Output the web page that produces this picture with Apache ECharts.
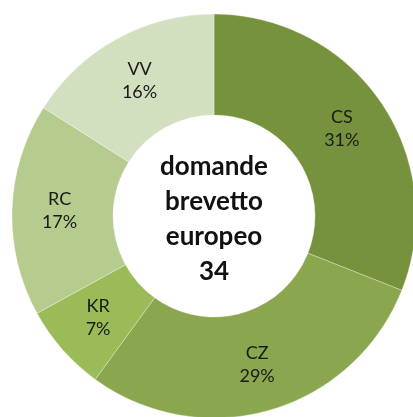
<!DOCTYPE html>
<html>
<head>
<meta charset="utf-8">
<script src="https://cdn.jsdelivr.net/npm/echarts@6/dist/echarts.min.js"></script>
<style>
html,body{margin:0;padding:0;background:#fff;}
#c{width:413px;height:417px;}
</style>
</head>
<body>
<div id="c"></div>
<script>
const categories = ['CS', 'CZ', 'KR', 'RC', 'VV'];
const values = [31, 29, 7, 17, 16];
const colors = ['#76923C', '#8AA74F', '#9BBB59', '#B6CC8E', '#D3E0C0'];
const centerLines = ['domande', 'brevetto', 'europeo', '34'];

const chart = echarts.init(document.getElementById('c'), null, {renderer: 'canvas'});
chart.setOption({
  animation: false,
  backgroundColor: '#ffffff',
  graphic: [{
    type: 'text',
    x: 214,
    y: 149,
    z: 10,
    style: {
      text: centerLines.join('\n'),
      font: 'bold 26px Lato, "Open Sans", sans-serif',
      fill: '#111111',
      align: 'center',
      textAlign: 'center',
      lineHeight: 35
    }
  }],
  series: [{
    type: 'pie',
    center: [214, 216],
    radius: [101, 202],
    startAngle: 90,
    clockwise: true,
    silent: true,
    itemStyle: {borderWidth: 0.6, borderColor: 'rgba(255,255,255,0.5)'},
    label: {
      show: true,
      position: 'inside',
      formatter: p => p.name + '\n' + p.value + '%',
      fontFamily: 'Lato, "Open Sans", sans-serif',
      fontSize: 18,
      lineHeight: 23,
      color: '#1a1a1a',
      align: 'center'
    },
    labelLine: {show: false},
    data: categories.map((c, i) => ({name: c, value: values[i], itemStyle: {color: colors[i]}}))
  }]
});
</script>
</body>
</html>
